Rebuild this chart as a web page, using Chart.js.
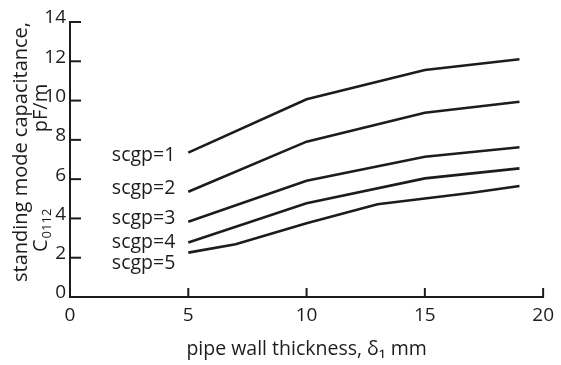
<!DOCTYPE html>
<html>
<head>
<meta charset="utf-8">
<script src="https://cdn.jsdelivr.net/npm/chart.js@4.4.1/dist/chart.umd.min.js"></script>
<style>
  html, body { margin: 0; padding: 0; background: #fff; }
  #wrap { width: 561px; height: 365px; }
</style>
</head>
<body>
<div id="wrap"><canvas id="capChart" width="561" height="365"></canvas></div>
<script>
// values
const thickness = [5, 10, 15, 19];
const scgp1 = [7.35, 10.07, 11.56, 12.1];
const scgp2 = [5.36, 7.91, 9.38, 9.94];
const scgp3 = [3.83, 5.92, 7.14, 7.62];
const scgp4 = [2.78, 4.77, 6.04, 6.55];
const thickness5 = [5, 7, 10, 13, 17, 19];
const scgp5 = [2.26, 2.68, 3.75, 4.72, 5.31, 5.65];
const seriesNames = ['scgp=1', 'scgp=2', 'scgp=3', 'scgp=4', 'scgp=5'];
const xTicks = [0, 5, 10, 15, 20];
const yTicks = [0, 2, 4, 6, 8, 10, 12, 14];

const INK = '#1c1c1e';
const FONT = '"Open Sans", "DejaVu Sans", sans-serif';

function pts(xs, ys) {
    return xs.map((x, i) => ({ x: x, y: ys[i] }));
}

const seriesData = [
    pts(thickness, scgp1),
    pts(thickness, scgp2),
    pts(thickness, scgp3),
    pts(thickness, scgp4),
    pts(thickness5, scgp5)
];

// inward ticks, series labels and the y title
const figurePlugin = {
    id: 'figure',
    afterDraw(chart) {
        const ctx = chart.ctx;
        const xs = chart.scales.x, ys = chart.scales.y;
        const area = chart.chartArea;
        ctx.save();
        ctx.strokeStyle = INK;
        ctx.lineWidth = 2;
        xTicks.forEach(v => {
            if (v === 0) return;
            const px = xs.getPixelForValue(v);
            ctx.beginPath();
            ctx.moveTo(px, area.bottom);
            ctx.lineTo(px, area.bottom - 9);
            ctx.stroke();
        });
        yTicks.forEach(v => {
            if (v === 0) return;
            const py = ys.getPixelForValue(v);
            ctx.beginPath();
            ctx.moveTo(area.left, py);
            ctx.lineTo(area.left + 11, py);
            ctx.stroke();
        });

        // series labels, left of each curve start
        const nudge = [3, -3, -3, 0, 11];
        ctx.fillStyle = INK;
        ctx.font = '19.5px ' + FONT;
        ctx.textAlign = 'right';
        ctx.textBaseline = 'middle';
        chart.data.datasets.forEach((ds, i) => {
            const first = chart.getDatasetMeta(i).data[0];
            ctx.fillText(seriesNames[i], first.x - 13, first.y + nudge[i]);
        });

        // rotated y title, two lines
        ctx.save();
        ctx.translate(21, 152);
        ctx.rotate(-Math.PI / 2);
        ctx.textAlign = 'center';
        ctx.font = '20px ' + FONT;
        ctx.fillText('standing mode capacitance,', 0, 0);
        ctx.restore();

        ctx.save();
        ctx.translate(41, 252);
        ctx.rotate(-Math.PI / 2);
        ctx.textAlign = 'left';
        ctx.font = '20px ' + FONT;
        ctx.fillText('C', 0, 0);
        const cw = ctx.measureText('C').width;
        ctx.font = '13px ' + FONT;
        ctx.fillText('0112', cw + 1, 6);
        ctx.restore();

        ctx.save();
        ctx.translate(41, 108);
        ctx.rotate(-Math.PI / 2);
        ctx.textAlign = 'center';
        ctx.font = '20px ' + FONT;
        ctx.fillText('pF/m', 0, 0);
        ctx.restore();

        ctx.restore();
    }
};

new Chart(document.getElementById('capChart').getContext('2d'), {
    type: 'line',
    data: {
        datasets: seriesData.map((d, i) => ({
            label: seriesNames[i],
            data: d,
            borderColor: INK,
            borderWidth: 2.6,
            pointRadius: 0,
            tension: 0,
            fill: false
        }))
    },
    options: {
        responsive: false,
        animation: false,
        layout: { padding: { left: 0, top: 22, right: 14, bottom: 0 } },
        plugins: { legend: { display: false }, tooltip: { enabled: false } },
        scales: {
            x: {
                type: 'linear',
                min: 0,
                max: 20,
                afterFit(scale) { scale.height = 68; },
                afterBuildTicks(scale) { scale.ticks = xTicks.map(v => ({ value: v })); },
                grid: { display: true, drawOnChartArea: false, drawTicks: false },
                border: { color: INK, width: 2 },
                ticks: { color: INK, font: { family: FONT, size: 19 }, padding: 7, maxRotation: 0 },
                title: {
                    display: true,
                    text: 'pipe wall thickness, δ\u2081 mm',
                    color: INK,
                    font: { family: FONT, size: 19.5 },
                    padding: { top: 8 }
                }
            },
            y: {
                min: 0,
                max: 14,
                afterFit(scale) { scale.width = 70; },
                afterBuildTicks(scale) { scale.ticks = yTicks.map(v => ({ value: v })); },
                grid: { display: true, drawOnChartArea: false, drawTicks: false },
                border: { color: INK, width: 2 },
                ticks: { color: INK, font: { family: FONT, size: 19 }, padding: 4, labelOffset: -4 }
            }
        }
    },
    plugins: [figurePlugin]
});
</script>
</body>
</html>
